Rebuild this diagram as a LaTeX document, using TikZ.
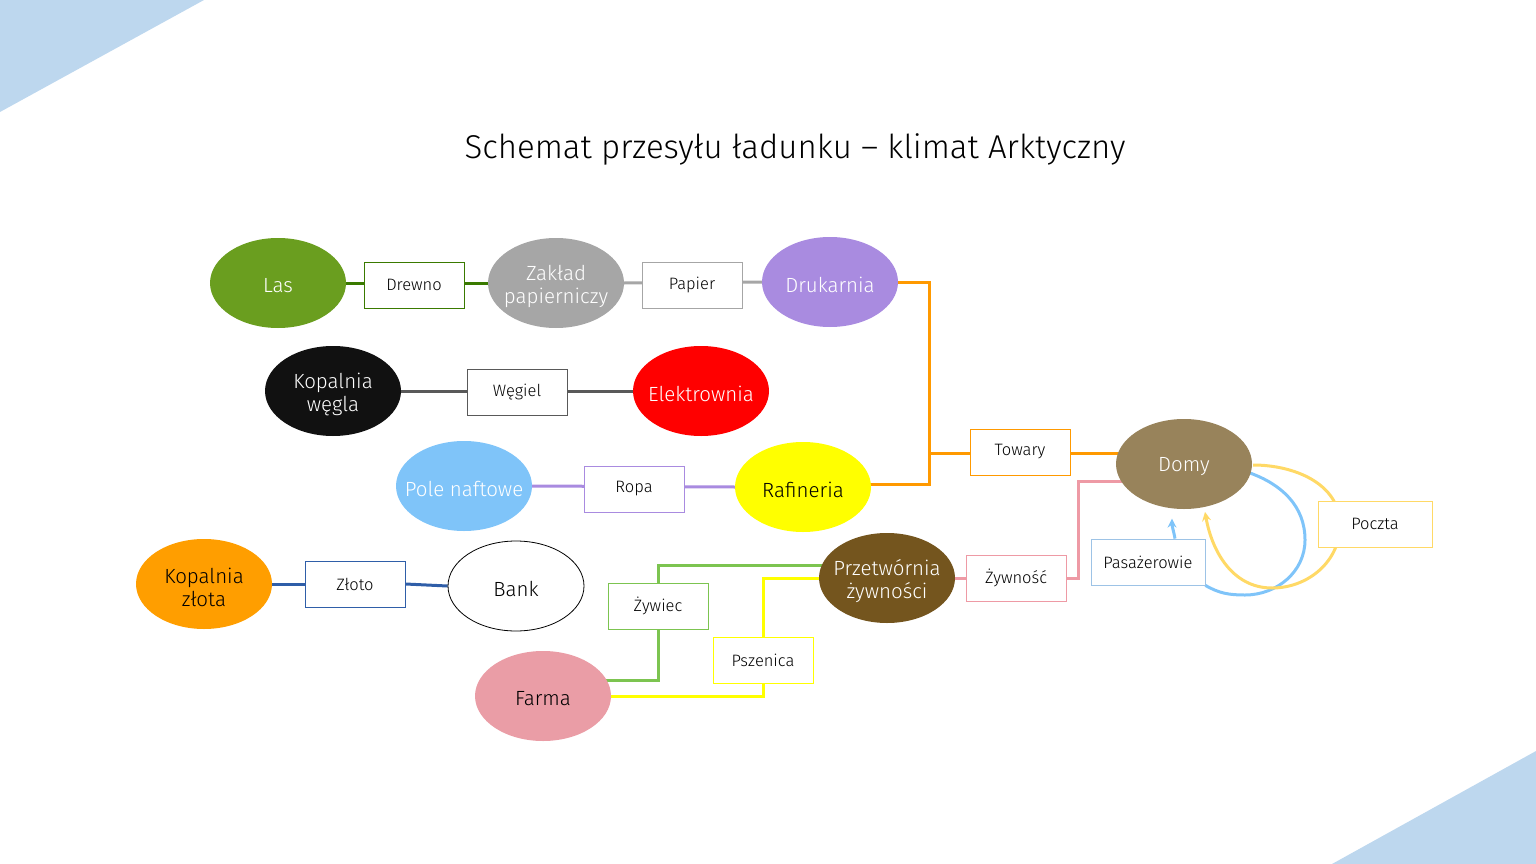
\documentclass[tikz,border=0pt]{standalone}
\usepackage{fontspec}
\setmainfont{Fira Sans Light}
\usetikzlibrary{shapes.geometric,arrows.meta,backgrounds,calc}
\definecolor{cTri}{HTML}{BDD7EE}
\definecolor{cLas}{HTML}{6A9E1F}
\definecolor{cDrewno}{HTML}{3A7A00}
\definecolor{cGray}{HTML}{A6A6A6}
\definecolor{cPurple}{HTML}{A98BE0}
\definecolor{cDark}{HTML}{595959}
\definecolor{cCoal}{HTML}{111111}
\definecolor{cRed}{HTML}{FF0000}
\definecolor{cLblue}{HTML}{7FC4F9}
\definecolor{cYel}{HTML}{FFFF00}
\definecolor{cOrange}{HTML}{FF9E00}
\definecolor{cOrange2}{HTML}{FF9900}
\definecolor{cBlue}{HTML}{2F5EA8}
\definecolor{cPink}{HTML}{EA9DA6}
\definecolor{cPinkL}{HTML}{EE9AA5}
\definecolor{cBrown}{HTML}{74551E}
\definecolor{cDomy}{HTML}{98835B}
\definecolor{cGreenL}{HTML}{7CC450}
\definecolor{cBlueBox}{HTML}{9DC3E6}
\definecolor{cYellowL}{HTML}{FFD966}
\begin{document}
\begin{tikzpicture}[x=1pt,y=-1pt,
  ell/.style={ellipse, minimum width=136pt, minimum height=90pt, inner sep=0pt},
  etxt/.style={align=center, inner sep=0pt, yshift=-3pt, font=\fontsize{20.5}{23}\selectfont},
  wt/.style={label={[etxt, text=white]center:#1}},
  bt/.style={label={[etxt, text=black]center:#1}},
  box/.style={draw, fill=white, minimum width=100pt, minimum height=46pt, inner sep=0pt, line width=0.8pt, font=\fontsize{16.5}{20}\selectfont},
  conn/.style={line width=3pt},
  tri/.style={fill=cTri}]
\useasboundingbox (0,0) rectangle (1536,864);
\fill[tri] (0,0) -- (204,0) -- (0,112) -- cycle;
\fill[tri] (1536,751) -- (1536,864) -- (1332,864) -- cycle;

\node[font=\fontsize{33}{38}\selectfont] (title) at (795,149) {Schemat przesyłu ładunku – klimat Arktyczny};

\node[ell, fill=cLas, wt={Las}] (las) at (278,283) {};
\node[box, draw=cDrewno] (drewno) at (414,285) {Drewno};
\node[ell, fill=cGray, wt={Zakład\\papierniczy}] (zaklad) at (556,283) {};
\node[box, draw=cGray] (papier) at (692,285) {Papier};
\node[ell, fill=cPurple, wt={Drukarnia}] (druk) at (830,282) {};
\node[ell, fill=cCoal, wt={Kopalnia\\węgla}] (kw) at (333,391) {};
\node[box, draw=cDark] (wegiel) at (517,392) {Węgiel};
\node[ell, fill=cRed, wt={Elektrownia}] (elek) at (701,391) {};
\node[ell, fill=cLblue, wt={Pole naftowe}] (pole) at (464,486) {};
\node[box, draw=cPurple] (ropa) at (634,489) {Ropa};
\node[ell, fill=cYel, bt={Rafineria}] (raf) at (803,487) {};
\node[ell, fill=cOrange, bt={Kopalnia\\złota}] (kz) at (204,584) {};
\node[box, draw=cBlue] (zloto) at (355,584) {Złoto};
\node[ell, draw=black, fill=white, line width=0.8pt, bt={Bank}] (bank) at (516,586) {};
\node[ell, fill=cPink, bt={Farma}] (farma) at (543,696) {};
\node[ell, fill=cBrown, wt={Przetwórnia\\żywności}] (prz) at (887,578) {};
\node[box, draw=cPinkL] (zywn) at (1016,578) {Żywność};
\node[box, draw=cGreenL] (zywiec) at (658,606) {Żywiec};
\node[box, draw=cYel] (psz) at (763,660) {Pszenica};
\node[box, draw=cOrange2] (towary) at (1020,452) {Towary};
\node[ell, fill=cDomy, wt={Domy}] (domy) at (1184,464) {};
\node[box, draw=cBlueBox, minimum width=114pt] (pas) at (1148,562) {Pasażerowie};
\node[box, draw=cYellowL, minimum width=114pt] (poczta) at (1375,524) {Poczta};

\begin{scope}[on background layer]
\draw[conn, cDrewno] (las.east) -- (zaklad.west);
\draw[conn, cGray] (zaklad.east) -- (druk.west);
\draw[conn, cDark] (kw.east) -- (elek.west);
\draw[conn, cPurple] (pole.east) -- (raf.west);
\draw[conn, cBlue] (kz.east) -- (zloto.west);
\draw[conn, cBlue] (zloto.east) -- (bank.west);
\coordinate (j1) at (929,453);
\coordinate (jd) at (1140,453);
\draw[conn, cOrange2] (druk.east) -| (j1) -- (jd);
\draw[conn, cOrange2] ($(raf.center)+(60,-3)$) -| (j1);
\coordinate (dz) at (1130,481);
\draw[conn, cPinkL] (prz.east) -- (zywn.west);
\draw[conn, cPinkL] (zywn.east) -- ++(12,0) |- (dz);
\draw[conn, cGreenL] ($(farma.center)+(60,-16)$) -| (zywiec.south);
\draw[conn, cGreenL] (zywiec.north) |- ($(prz.center)+(-50,-13)$);
\draw[conn, cYel] (farma.east) -| (psz.south);
\draw[conn, cYel] (psz.north) |- (prz.center);
% loops
\draw[conn, cLblue] ($(domy.center)+(66,9)$) to[out=-20,in=90] (1305,540) to[out=-90,in=0] (1245,595) to[out=180,in=-30] (pas.south east);
\draw[conn, cYellowL, -{Stealth[length=9pt,width=9pt]}] ($(domy.center)+(69,1)$) to[out=0,in=90] (1340,525) to[out=-90,in=0] (1272,588) to[out=180,in=-80] (1205,512);
\draw[conn, cLblue, -{Stealth[length=9pt,width=9pt]}] ($(pas.north)+(27,0)$) to[out=100,in=-90] ($(pas.north)+(24,-20)$);
\end{scope}
\end{tikzpicture}
\end{document}
